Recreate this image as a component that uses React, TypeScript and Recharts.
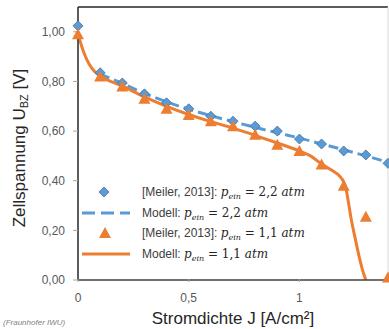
import { ComposedChart, Line, Scatter, XAxis, YAxis, ReferenceLine, Label } from 'recharts'

// Messdaten [Meiler, 2013]
const jMess = [0, 0.1, 0.2, 0.3, 0.4, 0.5, 0.6, 0.7, 0.8, 0.9, 1.0, 1.1, 1.2, 1.3, 1.4]
const uMess22 = [1.024, 0.835, 0.794, 0.75, 0.714, 0.69, 0.66, 0.64, 0.62, 0.6, 0.568, 0.548, 0.52, 0.504, 0.47]
const uMess11 = [0.99, 0.82, 0.78, 0.73, 0.69, 0.665, 0.64, 0.62, 0.585, 0.545, 0.52, 0.465, 0.38, 0.255, 0.01]

// Modellkurven
const jModell22 = [0.1, 0.2, 0.3, 0.4, 0.5, 0.6, 0.7, 0.8, 0.9, 1.0, 1.1, 1.2, 1.3, 1.4]
const uModell22 = [0.83, 0.792, 0.752, 0.718, 0.688, 0.662, 0.638, 0.615, 0.593, 0.572, 0.548, 0.525, 0.5, 0.475]
const jModell11 = [0, 0.025, 0.05, 0.075, 0.1, 0.2, 0.3, 0.4, 0.5, 0.6, 0.7, 0.8, 0.9, 1.0, 1.05, 1.1, 1.15, 1.18, 1.2, 1.21, 1.22, 1.235, 1.25, 1.27, 1.285, 1.3]
const uModell11 = [0.99, 0.92, 0.87, 0.84, 0.822, 0.782, 0.738, 0.7, 0.667, 0.638, 0.612, 0.583, 0.552, 0.52, 0.5, 0.467, 0.44, 0.42, 0.395, 0.37, 0.32, 0.24, 0.175, 0.093, 0.04, 0]

const yTicks = [0, 0.2, 0.4, 0.6, 0.8, 1.0]
const xTicks = [0, 0.5, 1]

const mess22 = jMess.map((j, i) => ({ j, u: uMess22[i] }))
const mess11 = jMess.map((j, i) => ({ j, u: uMess11[i] }))
const modell22 = jModell22.map((j, i) => ({ j, u: uModell22[i] }))
const modell11 = jModell11.map((j, i) => ({ j, u: uModell11[i] }))

const BLAU = '#5B9BD5'
const ORANGE = '#ED7D31'
const font = '"Liberation Sans", Arial, sans-serif'
const mathFont = '"DejaVu Serif", "Liberation Serif", serif'

const Raute = (p: any) => {
  const { cx, cy } = p
  return <polygon points={`${cx},${cy - 5} ${cx + 5},${cy} ${cx},${cy + 5} ${cx - 5},${cy}`} fill={BLAU} stroke="#41719C" strokeWidth={0.8} />
}

const Dreieck = (p: any) => {
  const { cx, cy } = p
  return <polygon points={`${cx},${cy - 6} ${cx + 6},${cy + 5} ${cx - 6},${cy + 5}`} fill={ORANGE} />
}

const XTick = ({ x, y, payload }: any) => (
  <g>
    <line x1={x} x2={x} y1={y - 3} y2={y} stroke="#a6a6a6" />
    <text x={x} y={y + 20} textAnchor="middle" fill="#595959" fontSize={12} fontFamily={font}>
      {String(payload.value).replace('.', ',')}
    </text>
  </g>
)

const Mathe = ({ druck }: { druck: string }) => (
  <>
    <tspan fontFamily={mathFont} fontStyle="italic" fill="#262626">p</tspan>
    <tspan fontFamily={mathFont} fontStyle="italic" fontSize={8} dy={3} fill="#262626">ein</tspan>
    <tspan fontFamily={mathFont} dy={-3} fill="#262626">{` = ${druck} `}</tspan>
    <tspan fontFamily={mathFont} fontStyle="italic" fill="#262626">atm</tspan>
  </>
)

const Legende = () => (
  <svg width={240} height={80} style={{ display: 'block' }}>
    <polygon points="24,4 29,9 24,14 19,9" fill={BLAU} stroke="#41719C" strokeWidth={0.8} />
    <text x={62} y={13} fontSize={12} fontFamily={font} fill="#404040">[Meiler, 2013]: <Mathe druck="2,2" /></text>
    <line x1={2} x2={50} y1={30} y2={30} stroke={BLAU} strokeWidth={3} strokeDasharray="13 6" />
    <text x={62} y={34} fontSize={12} fontFamily={font} fill="#404040">Modell: <Mathe druck="2,2" /></text>
    <polygon points="25,44 31,55 19,55" fill={ORANGE} />
    <text x={62} y={54} fontSize={12} fontFamily={font} fill="#404040">[Meiler, 2013]: <Mathe druck="1,1" /></text>
    <line x1={2} x2={50} y1={71} y2={71} stroke={ORANGE} strokeWidth={3} />
    <text x={62} y={75} fontSize={12} fontFamily={font} fill="#404040">Modell: <Mathe druck="1,1" /></text>
  </svg>
)

export default function App() {
  return (
    <div style={{ position: 'absolute', left: 0, top: 0, width: 389, height: 329, background: '#fff', overflow: 'hidden' }}>
      <ComposedChart width={389} height={329} margin={{ top: 7, right: 1, bottom: 0, left: 0 }}>
        <XAxis
          dataKey="j" type="number" domain={[0, 1.4]} ticks={xTicks} height={49}
          axisLine={{ stroke: '#404040', strokeWidth: 1.5 }} tickLine={false} tickSize={0} tick={<XTick />}
        >
          <Label
            content={() => (
              <text x={233} y={324} textAnchor="middle" fontSize={17} fontFamily={font} fill="#262626">
                Stromdichte J [A/cm²]
              </text>
            )}
          />
        </XAxis>
        <YAxis
          type="number" domain={[0, 1.1]} ticks={yTicks} width={78} tickSize={5} tickMargin={8}
          axisLine={{ stroke: '#262626', strokeWidth: 1.5 }} tickLine={{ stroke: '#a6a6a6' }}
          tick={{ fill: '#595959', fontSize: 12, fontFamily: font }}
          tickFormatter={(v: number) => v.toFixed(2).replace('.', ',')}
        >
          <Label
            content={() => (
              <text transform="translate(25,148) rotate(-90)" textAnchor="middle" fontSize={17} fontFamily={font} fill="#262626">
                Zellspannung U<tspan fontSize={11} dy={3}>BZ</tspan><tspan dy={-3}> [V]</tspan>
              </text>
            )}
          />
        </YAxis>
        <ReferenceLine y={1.1} stroke="#262626" strokeWidth={1.5} />
        <ReferenceLine x={1.4} stroke="#d9d9d9" />
        <Scatter data={mess22} dataKey="u" shape={<Raute />} isAnimationActive={false} />
        <Line data={modell22} dataKey="u" type="monotone" stroke={BLAU} strokeWidth={3} strokeDasharray="10 5" dot={false} isAnimationActive={false} />
        <Scatter data={mess11} dataKey="u" shape={<Dreieck />} isAnimationActive={false} />
        <Line data={modell11} dataKey="u" type="monotone" stroke={ORANGE} strokeWidth={3} dot={false} isAnimationActive={false} />
      </ComposedChart>
      <div style={{ position: 'absolute', left: 80, top: 183 }}>
        <Legende />
      </div>
      <div style={{ position: 'absolute', left: 3, top: 318, fontSize: 8, lineHeight: '10px', fontFamily: font, color: '#7f7f7f', fontStyle: 'italic' }}>
        (Fraunhofer IWU)
      </div>
    </div>
  )
}
